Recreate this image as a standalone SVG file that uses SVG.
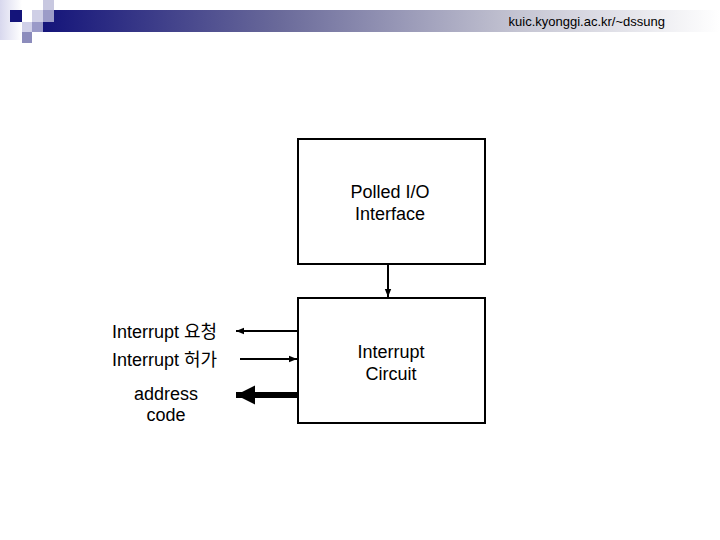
<svg xmlns="http://www.w3.org/2000/svg" width="720" height="540" viewBox="0 0 720 540">
  <style>
    .box { fill: #ffffff; stroke: #000000; stroke-width: 2; }
    .lbl { font-family: "Liberation Sans", "Noto Sans CJK KR", sans-serif; font-size: 18px; fill: #000000; }
    .hdr { font-family: "Liberation Sans", sans-serif; font-size: 13px; fill: #000000; }
    .wire { stroke: #000000; stroke-width: 2; fill: none; }
    .bus { stroke: #000000; stroke-width: 6; fill: none; }
  </style>
  <defs>
    <linearGradient id="bar" x1="0" y1="0" x2="1" y2="0">
      <stop offset="0" stop-color="#14147a"/>
      <stop offset="0.35" stop-color="#6a6a9a"/>
      <stop offset="0.7" stop-color="#c4c4d2"/>
      <stop offset="1" stop-color="#ffffff"/>
    </linearGradient>
    <linearGradient id="side" x1="0" y1="0" x2="1" y2="0">
      <stop offset="0" stop-color="#d8d8ee"/>
      <stop offset="1" stop-color="#ffffff"/>
    </linearGradient>
    <marker id="ah" viewBox="0 0 10 10" refX="10" refY="5" markerWidth="4.5" markerHeight="4" orient="auto" markerUnits="strokeWidth">
      <path d="M0,1 L10,5 L0,9 z" fill="#000"/>
    </marker>
    <marker id="ahBig" viewBox="0 0 10 10" refX="10" refY="5" markerWidth="3.2" markerHeight="3.2" orient="auto" markerUnits="strokeWidth">
      <path d="M0,0 L10,5 L0,10 z" fill="#000"/>
    </marker>
  </defs>

  <!-- header decoration -->
  <g id="header">
    <rect x="0" y="0" width="22" height="40" fill="url(#side)"/>
    <rect x="43" y="10" width="677" height="22" fill="url(#bar)"/>
    <rect x="10" y="10" width="12" height="12" fill="#14147a"/>
    <rect x="32" y="10" width="11" height="12" fill="#cfcfe6"/>
    <rect x="43" y="0" width="11" height="10" fill="#c8c8e0"/>
    <rect x="43" y="10" width="11" height="12" fill="#9c9cc8"/>
    <rect x="22" y="22" width="10" height="10" fill="#d0d0e8"/>
    <rect x="32" y="22" width="11" height="10" fill="#9a9ac8"/>
    <rect x="22" y="32" width="10" height="11" fill="#8c8cbc"/>
    <text class="hdr" x="665" y="26" text-anchor="end">kuic.kyonggi.ac.kr/~dssung</text>
  </g>

  <g id="polled-io">
    <rect class="box" x="298" y="139" width="187" height="125"/>
    <text class="lbl" x="390" y="198" text-anchor="middle">Polled I/O</text>
    <text class="lbl" x="390" y="220" text-anchor="middle">Interface</text>
  </g>

  <g id="interrupt-circuit">
    <rect class="box" x="298" y="298" width="187" height="125"/>
    <text class="lbl" x="391" y="358" text-anchor="middle">Interrupt</text>
    <text class="lbl" x="391" y="380" text-anchor="middle">Circuit</text>
  </g>

  <g id="labels">
    <text class="lbl" x="112" y="338">Interrupt 요청</text>
    <text class="lbl" x="112" y="366">Interrupt 허가</text>
    <text class="lbl" x="166" y="400" text-anchor="middle">address</text>
    <text class="lbl" x="166" y="421" text-anchor="middle">code</text>
  </g>

  <g id="connectors">
    <line class="wire" x1="388" y1="264" x2="388" y2="297" marker-end="url(#ah)"/>
    <line class="wire" x1="297" y1="331" x2="236" y2="331" marker-end="url(#ah)"/>
    <line class="wire" x1="240" y1="359" x2="297" y2="359" marker-end="url(#ah)"/>
    <line class="bus" x1="297" y1="395" x2="236" y2="395" marker-end="url(#ahBig)"/>
  </g>
</svg>
